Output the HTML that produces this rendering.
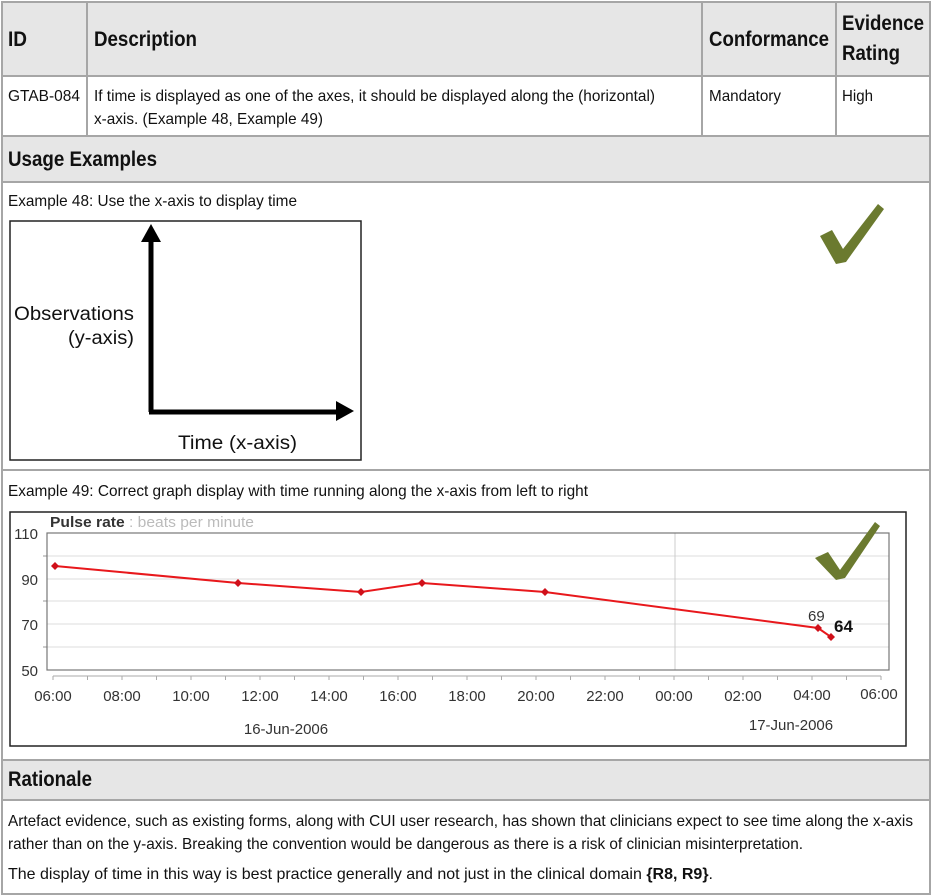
<!DOCTYPE html>
<html><head><meta charset="utf-8"><style>
html,body{margin:0;padding:0;background:#fff}
svg{display:block}
text{font-family:"Liberation Sans",sans-serif}
.h{font-weight:bold;font-size:21px;fill:#111}
.t{font-size:16px;fill:#111}
.c{font-family:"Liberation Sans",sans-serif;font-size:15px;fill:#333}
</style></head><body>
<svg width="932" height="896" viewBox="0 0 932 896" xmlns="http://www.w3.org/2000/svg">
<rect x="2" y="2" width="928" height="74" fill="#e6e6e6"/>
<rect x="2" y="136" width="928" height="46" fill="#e6e6e6"/>
<rect x="2" y="760" width="928" height="40" fill="#e6e6e6"/>
<g stroke="#a6a6a6" stroke-width="2" fill="none">
<rect x="2" y="2" width="928" height="892"/>
<line x1="2" y1="76" x2="930" y2="76"/>
<line x1="2" y1="136" x2="930" y2="136"/>
<line x1="2" y1="182" x2="930" y2="182"/>
<line x1="2" y1="470" x2="930" y2="470"/>
<line x1="2" y1="760" x2="930" y2="760"/>
<line x1="2" y1="800" x2="930" y2="800"/>
<line x1="87" y1="2" x2="87" y2="136"/>
<line x1="702" y1="2" x2="702" y2="136"/>
<line x1="836" y1="2" x2="836" y2="136"/>
</g>
<text class="h" x="8" y="46" textLength="19" lengthAdjust="spacingAndGlyphs">ID</text>
<text class="h" x="94" y="46" textLength="103" lengthAdjust="spacingAndGlyphs">Description</text>
<text class="h" x="709" y="46" textLength="120" lengthAdjust="spacingAndGlyphs">Conformance</text>
<text class="h" x="842" y="30" textLength="82" lengthAdjust="spacingAndGlyphs">Evidence</text>
<text class="h" x="842" y="60" textLength="58" lengthAdjust="spacingAndGlyphs">Rating</text>
<text class="t" x="8" y="101" textLength="72" lengthAdjust="spacingAndGlyphs">GTAB-084</text>
<text class="t" x="94" y="101" textLength="561" lengthAdjust="spacingAndGlyphs">If time is displayed as one of the axes, it should be displayed along the (horizontal)</text>
<text class="t" x="94" y="124" textLength="229" lengthAdjust="spacingAndGlyphs">x-axis. (Example 48, Example 49)</text>
<text class="t" x="709" y="101" textLength="72" lengthAdjust="spacingAndGlyphs">Mandatory</text>
<text class="t" x="842" y="101" textLength="31" lengthAdjust="spacingAndGlyphs">High</text>
<text class="h" x="8" y="166" textLength="149" lengthAdjust="spacingAndGlyphs">Usage Examples</text>
<text class="t" x="8" y="206" textLength="289" lengthAdjust="spacingAndGlyphs">Example 48: Use the x-axis to display time</text>
<rect x="10" y="221" width="351" height="239" fill="#fff" stroke="#222" stroke-width="1.5"/>
<line x1="151" y1="238" x2="151" y2="412" stroke="#000" stroke-width="5"/>
<polygon points="141,242 151,224 161,242" fill="#000"/>
<line x1="149" y1="412" x2="338" y2="412" stroke="#000" stroke-width="5"/>
<polygon points="336,401 354,411 336,421" fill="#000"/>
<text x="14" y="320" font-size="19" fill="#111" textLength="120" lengthAdjust="spacingAndGlyphs">Observations</text>
<text x="68" y="344" font-size="19" fill="#111" textLength="66" lengthAdjust="spacingAndGlyphs">(y-axis)</text>
<text x="178" y="449" font-size="19" fill="#111" textLength="119" lengthAdjust="spacingAndGlyphs">Time (x-axis)</text>
<path d="M820,236 L832,230 L843,249 L878,204 L884,209 L846,262 L836,264 Z" fill="#6b7a2f"/>
<text class="t" x="8" y="496" textLength="580" lengthAdjust="spacingAndGlyphs">Example 49: Correct graph display with time running along the x-axis from left to right</text>
<rect x="10" y="512" width="896" height="234" fill="#fff" stroke="#222" stroke-width="1.5"/>
<g stroke="#ddd" stroke-width="1">
<line x1="47" y1="556" x2="889" y2="556"/>
<line x1="47" y1="579" x2="889" y2="579"/>
<line x1="47" y1="601" x2="889" y2="601"/>
<line x1="47" y1="624" x2="889" y2="624"/>
<line x1="47" y1="647" x2="889" y2="647"/>
<line x1="675" y1="533" x2="675" y2="670" stroke="#ccc"/>
</g>
<g stroke="#999" stroke-width="1">
<line x1="43" y1="556" x2="47" y2="556"/><line x1="43" y1="601" x2="47" y2="601"/><line x1="43" y1="647" x2="47" y2="647"/>
</g>
<rect x="47" y="533" width="842" height="137" fill="none" stroke="#777" stroke-width="1.2"/>
<line x1="53" y1="676" x2="881" y2="676" stroke="#aaa" stroke-width="1"/>
<g stroke="#aaa" stroke-width="1">
<line x1="53" y1="676" x2="53" y2="680"/><line x1="87.5" y1="676" x2="87.5" y2="680"/><line x1="122" y1="676" x2="122" y2="680"/><line x1="156.5" y1="676" x2="156.5" y2="680"/><line x1="191" y1="676" x2="191" y2="680"/><line x1="225.5" y1="676" x2="225.5" y2="680"/><line x1="260" y1="676" x2="260" y2="680"/><line x1="294.5" y1="676" x2="294.5" y2="680"/><line x1="329" y1="676" x2="329" y2="680"/><line x1="363.5" y1="676" x2="363.5" y2="680"/><line x1="398" y1="676" x2="398" y2="680"/><line x1="432.5" y1="676" x2="432.5" y2="680"/><line x1="467" y1="676" x2="467" y2="680"/><line x1="501.5" y1="676" x2="501.5" y2="680"/><line x1="536" y1="676" x2="536" y2="680"/><line x1="570.5" y1="676" x2="570.5" y2="680"/><line x1="605" y1="676" x2="605" y2="680"/><line x1="639.5" y1="676" x2="639.5" y2="680"/><line x1="674" y1="676" x2="674" y2="680"/><line x1="708.5" y1="676" x2="708.5" y2="680"/><line x1="743" y1="676" x2="743" y2="680"/><line x1="777.5" y1="676" x2="777.5" y2="680"/><line x1="812" y1="676" x2="812" y2="680"/><line x1="846.5" y1="676" x2="846.5" y2="680"/><line x1="881" y1="676" x2="881" y2="680"/>
</g>
<text x="50" y="527" font-size="15" fill="#333" textLength="204" lengthAdjust="spacingAndGlyphs"><tspan font-weight="bold">Pulse rate</tspan><tspan fill="#bbb"> : beats per minute</tspan></text>
<g text-anchor="end">
<text x="38" y="539" class="c">110</text><text x="38" y="585" class="c">90</text><text x="38" y="630" class="c">70</text><text x="38" y="676" class="c">50</text>
</g>
<g text-anchor="middle">
<text class="c" x="53" y="701">06:00</text><text class="c" x="122" y="701">08:00</text><text class="c" x="191" y="701">10:00</text><text class="c" x="260" y="701">12:00</text><text class="c" x="329" y="701">14:00</text><text class="c" x="398" y="701">16:00</text><text class="c" x="467" y="701">18:00</text><text class="c" x="536" y="701">20:00</text><text class="c" x="605" y="701">22:00</text><text class="c" x="674" y="701">00:00</text><text class="c" x="743" y="701">02:00</text><text class="c" x="812" y="700">04:00</text><text class="c" x="879" y="699">06:00</text>
<text class="c" x="286" y="734">16-Jun-2006</text>
<text class="c" x="791" y="730">17-Jun-2006</text>
</g>
<polyline points="55,566 238,583 361,592 422,583 545,592 818,628 831,637" fill="none" stroke="#e8181c" stroke-width="2"/>
<g fill="#d0101a">
<polygon points="55,562 59,566 55,570 51,566"/><polygon points="238,579 242,583 238,587 234,583"/><polygon points="361,588 365,592 361,596 357,592"/><polygon points="422,579 426,583 422,587 418,583"/><polygon points="545,588 549,592 545,596 541,592"/><polygon points="818,624 822,628 818,632 814,628"/><polygon points="831,633 835,637 831,641 827,637"/>
</g>
<text class="c" x="808" y="621">69</text>
<text x="834" y="632" font-size="17" font-weight="bold" fill="#111">64</text>
<path d="M815,558 L828,552 L840,570 L875,522 L880,526 L845,578 L836,580 Z" fill="#6b7a2f"/>
<text class="h" x="8" y="786" textLength="84" lengthAdjust="spacingAndGlyphs">Rationale</text>
<text class="t" x="8" y="826" textLength="905" lengthAdjust="spacingAndGlyphs">Artefact evidence, such as existing forms, along with CUI user research, has shown that clinicians expect to see time along the x-axis</text>
<text class="t" x="8" y="849" textLength="795" lengthAdjust="spacingAndGlyphs">rather than on the y-axis. Breaking the convention would be dangerous as there is a risk of clinician misinterpretation.</text>
<text class="t" x="8" y="879" textLength="705" lengthAdjust="spacingAndGlyphs">The display of time in this way is best practice generally and not just in the clinical domain <tspan font-weight="bold">{R8, R9}</tspan>.</text>
</svg>
</body></html>
